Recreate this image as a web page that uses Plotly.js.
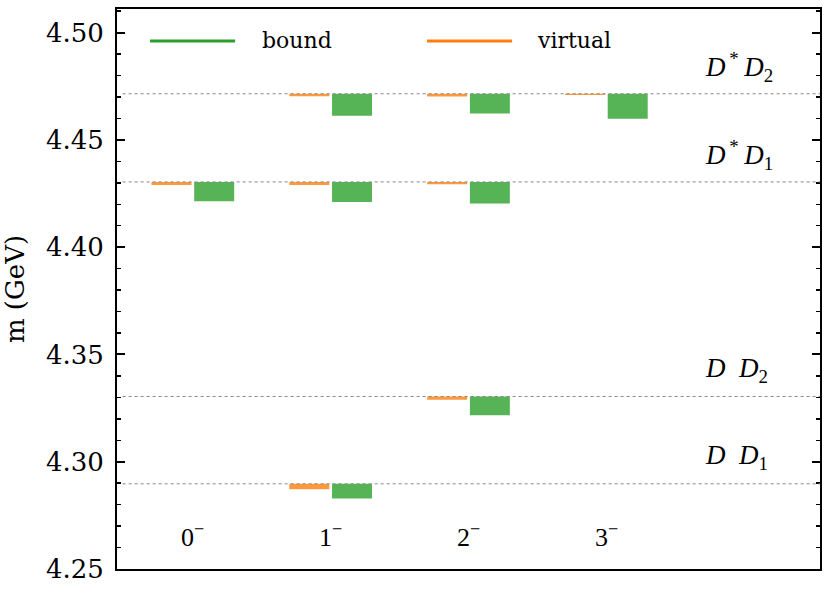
<!DOCTYPE html>
<html>
<head>
<meta charset="utf-8">
<script src="https://cdn.plot.ly/plotly-3.0.1.min.js"></script>
<style>
  body { margin: 0; background: #fff; }
  #chart { width: 830px; height: 593px; }
</style>
</head>
<body>
<div id="chart"></div>
<script>
// quantum numbers along x
const jLabels = ['0<sup>\u2212</sup>', '1<sup>\u2212</sup>', '2<sup>\u2212</sup>', '3<sup>\u2212</sup>'];
const jPos = [0, 1, 2, 3];

// thresholds (GeV)
const thrNames = ['<i>D</i>\u2002<i>D</i><sub>1</sub>', '<i>D</i>\u2002<i>D</i><sub>2</sub>',
                  '<i>D</i><sup>\u2009*</sup>\u2009<i>D</i><sub>1</sub>', '<i>D</i><sup>\u2009*</sup>\u2009<i>D</i><sub>2</sub>'];
const thrMass = [4.2897, 4.3304, 4.4304, 4.4715];

// poles: which J, which threshold, depth below threshold (GeV)
const poleJ = [0, 1, 1, 1, 2, 2, 2, 3];
const poleThr = [2, 0, 2, 3, 1, 2, 3, 3];
const boundDepth = [0.0090, 0.0069, 0.0093, 0.0103, 0.0087, 0.0100, 0.0092, 0.0117];
const virtualDepth = [0.0014, 0.0025, 0.0014, 0.0012, 0.0015, 0.0011, 0.0013, 0.0006];

const seriesNames = ['bound', 'virtual'];
const seriesColors = ['#2ca02c', '#ff7f0e'];

const poleBase = poleThr.map(i => thrMass[i]);

const traces = [
    {
        type: 'bar',
        name: 'virtual',
        x: poleJ,
        y: virtualDepth.map(d => -d),
        base: poleBase,
        offset: -0.30,
        width: 0.29,
        marker: { color: seriesColors[1], opacity: 0.8, line: { width: 0 } },
        showlegend: false,
        hoverinfo: 'skip'
    },
    {
        type: 'bar',
        name: 'bound',
        x: poleJ,
        y: boundDepth.map(d => -d),
        base: poleBase,
        offset: 0.01,
        width: 0.29,
        marker: { color: seriesColors[0], opacity: 0.8, line: { width: 0 } },
        showlegend: false,
        hoverinfo: 'skip'
    }
];

const serif = 'DejaVu Serif, serif';
const mathFont = { family: 'Liberation Serif, serif', size: 27, color: '#000' };

// threshold lines
const shapes = thrMass.map(m => ({
    type: 'line', xref: 'paper', yref: 'y',
    x0: 0.008, x1: 1, y0: m, y1: m,
    line: { color: '#888', width: 1, dash: 'dot' }
}));

// legend lines drawn by hand (long matplotlib-style handles)
const legX = [0.047, 0.441];
const legTextX = [0.204, 0.595];
seriesNames.forEach((n, i) => {
    shapes.push({
        type: 'line', xref: 'paper', yref: 'paper',
        x0: legX[i], x1: legX[i] + 0.121, y0: 0.943, y1: 0.943,
        line: { color: seriesColors[i], width: 3 }
    });
});

const annotations = [];
thrMass.forEach((m, i) => {
    annotations.push({
        x: 3.70, y: m + 0.0125, xref: 'x', yref: 'y',
        text: thrNames[i], showarrow: false,
        font: mathFont, xanchor: 'left', yanchor: 'middle'
    });
});
jPos.forEach((x, i) => {
    annotations.push({
        x: x, y: 4.2655, xref: 'x', yref: 'y',
        text: jLabels[i], showarrow: false,
        font: { family: 'Liberation Serif, serif', size: 26, color: '#000' },
        xanchor: 'center', yanchor: 'middle'
    });
});
seriesNames.forEach((n, i) => {
    annotations.push({
        x: legTextX[i], y: 0.943, xref: 'paper', yref: 'paper',
        text: n, showarrow: false,
        font: { family: serif, size: 22, color: '#000' },
        xanchor: 'left', yanchor: 'middle'
    });
});

const layout = {
    width: 830,
    height: 593,
    margin: { l: 117, r: 10, t: 9, b: 24 },
    paper_bgcolor: '#fff',
    plot_bgcolor: '#fff',
    barmode: 'overlay',
    showlegend: false,
    xaxis: {
        range: [-0.55, 4.55],
        showgrid: false,
        zeroline: false,
        showticklabels: false,
        ticks: '',
        showline: true,
        linecolor: '#000',
        linewidth: 2,
        mirror: true
    },
    yaxis: {
        range: [4.25, 4.511],
        dtick: 0.05,
        tick0: 4.25,
        tickformat: '.2f',
        showgrid: false,
        zeroline: false,
        ticks: 'inside',
        ticklen: 8,
        tickwidth: 2,
        tickcolor: '#000',
        minor: { dtick: 0.01, ticks: 'inside', ticklen: 4, tickwidth: 1.5, tickcolor: '#000', showgrid: false },
        showline: true,
        linecolor: '#000',
        linewidth: 2,
        mirror: 'allticks',
        ticklabelstandoff: 6,
        tickfont: { family: serif, size: 26, color: '#000' },
        title: { text: 'm (GeV)', font: { family: serif, size: 26, color: '#000' }, standoff: 14 }
    },
    shapes: shapes,
    annotations: annotations
};

Plotly.newPlot('chart', traces, layout, { displayModeBar: false, staticPlot: true });
</script>
</body>
</html>
